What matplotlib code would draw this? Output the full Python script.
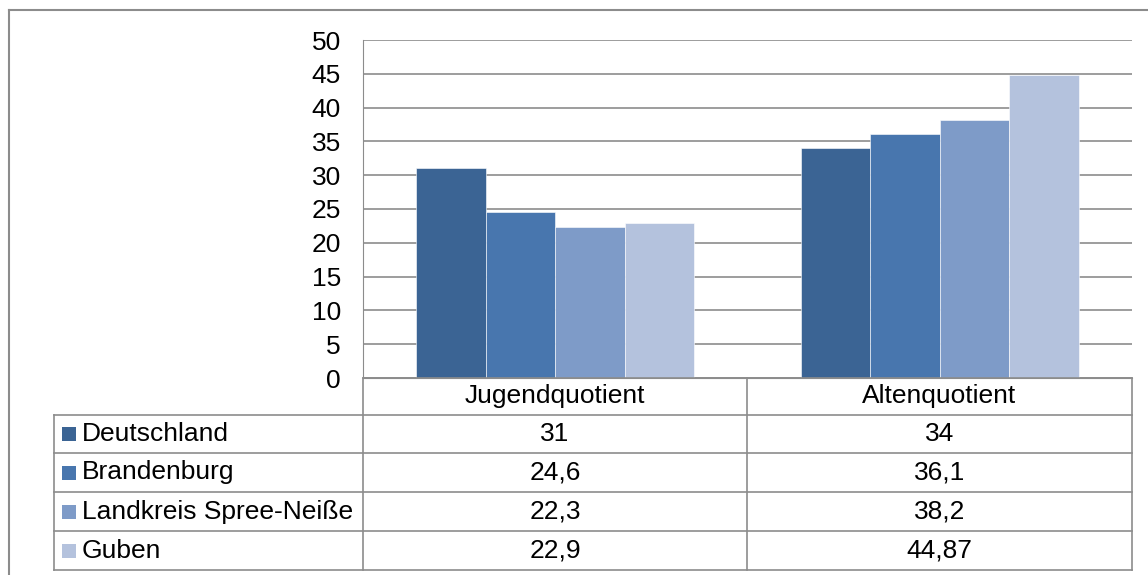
import matplotlib.pyplot as plt
from matplotlib.patches import Rectangle
import numpy as np

plt.rcParams['font.family'] = ['Liberation Sans', 'DejaVu Sans']

categories = ["Jugendquotient", "Altenquotient"]
series = ["Deutschland", "Brandenburg", "Landkreis Spree-Neiße", "Guben"]
values = {
    "Deutschland": [31, 34],
    "Brandenburg": [24.6, 36.1],
    "Landkreis Spree-Neiße": [22.3, 38.2],
    "Guben": [22.9, 44.87],
}
labels = {
    "Deutschland": ["31", "34"],
    "Brandenburg": ["24,6", "36,1"],
    "Landkreis Spree-Neiße": ["22,3", "38,2"],
    "Guben": ["22,9", "44,87"],
}
colors = ["#3B6494", "#4876AE", "#7E9BC8", "#B4C2DD"]

W, H = 1148, 575
fig = plt.figure(figsize=(W / 100, H / 100), dpi=100)
fs = 19

def fx(px):
    return px / W

def fy(py):
    return 1 - py / H

grid_col = "#8C8C8C"

# outer chart border (top and left visible)
fig.add_artist(plt.Line2D([fx(9), fx(1148)], [fy(10), fy(10)], color="#8C8C8C", lw=1.5))
fig.add_artist(plt.Line2D([fx(9), fx(9)], [fy(10), fy(575)], color="#8C8C8C", lw=1.5))

ax_l, ax_r, ax_t, ax_b = 363, 1132, 40, 378
ax = fig.add_axes([fx(ax_l), fy(ax_b), fx(ax_r - ax_l), (ax_b - ax_t) / H])

x = np.arange(len(categories))
bw = 0.181
for i, s in enumerate(series):
    ax.bar(x + (i - 1.5) * bw, values[s], width=bw, color=colors[i],
           edgecolor="white", linewidth=0.4, zorder=3)

ax.set_xlim(-0.5, 1.5)
ax.set_ylim(0, 50)
ax.set_yticks(range(0, 51, 5))
ax.set_xticks([])
ax.yaxis.grid(True, color=grid_col, lw=1.2, zorder=0)
ax.tick_params(axis="y", length=0, labelsize=fs, pad=16)
for sp in ["top", "right"]:
    ax.spines[sp].set_visible(False)
ax.spines["left"].set_color(grid_col)
ax.spines["bottom"].set_color(grid_col)

# data table
rows_y = [378, 415, 453, 492, 531, 570]
tab_l = 54
cols_x = [ax_l, 747, ax_r]
line_kw = dict(color=grid_col, lw=1.2)

fig.add_artist(plt.Line2D([fx(ax_l), fx(ax_r)], [fy(rows_y[0]), fy(rows_y[0])], **line_kw))
for cx in cols_x:
    fig.add_artist(plt.Line2D([fx(cx), fx(cx)], [fy(rows_y[0]), fy(rows_y[-1])], **line_kw))
fig.add_artist(plt.Line2D([fx(tab_l), fx(tab_l)], [fy(rows_y[1]), fy(rows_y[-1])], **line_kw))
for ry in rows_y[1:]:
    fig.add_artist(plt.Line2D([fx(tab_l), fx(ax_r)], [fy(ry), fy(ry)], **line_kw))

centers = [(cols_x[0] + cols_x[1]) / 2, (cols_x[1] + cols_x[2]) / 2]
for j, c in enumerate(categories):
    fig.text(fx(centers[j]), fy((rows_y[0] + rows_y[1]) / 2), c,
             ha="center", va="center", fontsize=fs)

for i, s in enumerate(series):
    cy = (rows_y[i + 1] + rows_y[i + 2]) / 2
    fig.add_artist(Rectangle((fx(62), fy(cy + 7)), fx(14), 14 / H,
                             facecolor=colors[i], edgecolor="none"))
    fig.text(fx(82), fy(cy), s, ha="left", va="center", fontsize=fs)
    for j in range(len(categories)):
        fig.text(fx(centers[j]), fy(cy), labels[s][j],
                 ha="center", va="center", fontsize=fs)

fig.savefig("out.png", dpi=100)
